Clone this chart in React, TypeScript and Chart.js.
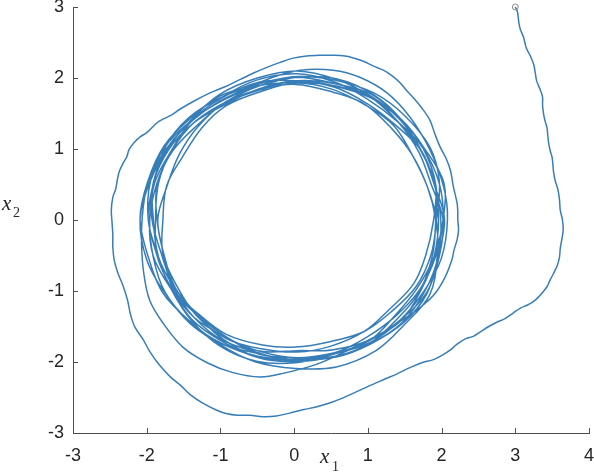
import React, { useEffect, useRef } from "react";
import { Chart, registerables } from "chart.js";

Chart.register(...registerables);

// Start of the trajectory (marked with a small circle)
const startX1 = [3];
const startX2 = [3];

// Transient part: first wide loop and second ring
const transientX1 = [
  3.0, 3.03, 3.04, 3.05, 3.07, 3.11, 3.13, 3.15, 3.2, 3.25, 3.27, 3.29, 3.34, 3.37, 3.37, 3.38,
  3.4, 3.43, 3.44, 3.45, 3.47, 3.5, 3.51, 3.52, 3.54, 3.58, 3.6, 3.61, 3.64, 3.65, 3.63, 3.61,
  3.6, 3.57, 3.52, 3.47, 3.43, 3.37, 3.3, 3.23, 3.16, 3.07, 2.97, 2.86, 2.75, 2.64, 2.52, 2.43,
  2.33, 2.22, 2.12, 2.0, 1.88, 1.73, 1.57, 1.39, 1.21, 0.99, 0.76, 0.53, 0.31, 0.13, -0.06,
  -0.24, -0.42, -0.6, -0.77, -0.91, -1.05, -1.24, -1.41, -1.54, -1.68, -1.83, -1.96, -2.05,
  -2.16, -2.22, -2.26, -2.32, -2.39, -2.44, -2.46, -2.46, -2.47, -2.48, -2.46, -2.42, -2.4,
  -2.37, -2.32, -2.27, -2.24, -2.17, -2.09, -2.0, -1.93, -1.86, -1.78, -1.66, -1.55, -1.35,
  -1.14, -0.93, -0.73, -0.55, -0.37, -0.19, -0.01, 0.17, 0.35, 0.52, 0.69, 0.81, 0.93, 1.07,
  1.21, 1.33, 1.44, 1.52, 1.61, 1.73, 1.84, 1.91, 1.98, 2.06, 2.12, 2.16, 2.21, 2.22, 2.22,
  2.23, 2.21, 2.17, 2.14,
  2.05, 1.9, 1.7, 1.45, 1.21, 0.76, 0.31, -0.15, -0.46, -0.83, -1.18, -1.51, -1.78, -1.96,
  -2.04, -2.07, -2.06, -2.0, -1.86, -1.64, -1.37, -1.05, -0.69, -0.29, 0.08, 0.53, 0.89, 1.26,
  1.57, 1.84, 2.03,
];
const transientX2 = [
  3.0, 2.93, 2.85, 2.77, 2.68, 2.58, 2.5, 2.42, 2.32, 2.19, 2.08, 1.96, 1.83, 1.73, 1.62, 1.52,
  1.41, 1.3, 1.2, 1.1, 0.99, 0.88, 0.78, 0.67, 0.56, 0.42, 0.28, 0.14, 0.0, -0.14, -0.28, -0.4,
  -0.52, -0.64, -0.75, -0.85, -0.94, -1.02, -1.1, -1.16, -1.2, -1.24, -1.31, -1.39, -1.44, -1.5,
  -1.58, -1.64, -1.67, -1.74, -1.83, -1.91, -1.97, -2.01, -2.08, -2.17, -2.25, -2.35, -2.46,
  -2.56, -2.63, -2.67, -2.72, -2.76, -2.77, -2.75, -2.75, -2.73, -2.68, -2.58, -2.46, -2.33,
  -2.21, -2.04, -1.85, -1.68, -1.51, -1.33, -1.13, -0.93, -0.75, -0.57, -0.38, -0.21, -0.04,
  0.14, 0.32, 0.44, 0.56, 0.69, 0.8, 0.89, 0.99, 1.09, 1.17, 1.23, 1.3, 1.37, 1.42, 1.48, 1.56,
  1.68, 1.79, 1.88, 1.98, 2.07, 2.15, 2.22, 2.28, 2.31, 2.32, 2.32, 2.31, 2.28, 2.24, 2.17,
  2.11, 2.03, 1.93, 1.83, 1.73, 1.58, 1.41, 1.21, 1.03, 0.87, 0.7, 0.47, 0.24, 0.12, 0.0,
  -0.14, -0.28, -0.42, -0.56,
  -0.8, -1.05, -1.24, -1.42, -1.58, -1.82, -2.03, -2.16, -2.21, -2.15, -2.01, -1.79, -1.45,
  -1.13, -0.75, -0.35, 0.05, 0.46, 0.8, 1.13, 1.41, 1.65, 1.83, 2.01, 2.11, 2.11, 2.01, 1.79,
  1.45, 0.99, 0.46,
];

// Settled loops around the limit cycle
const cycleX1 = [
  2.08, 2.0, 1.77, 1.43, 1.04, 0.53, 0.04, -0.49, -0.98, -1.41, -1.75, -1.91, -1.96, -1.89, -1.67, -1.37, -0.96, -0.51, 0.04, 0.56, 1.0, 1.42, 1.75, 1.97,
  2.02, 1.92, 1.71, 1.38, 0.97, 0.55, 0.02, -0.48, -0.96, -1.39, -1.65, -1.86, -1.88, -1.84, -1.67, -1.37, -0.98, -0.48, 0.02, 0.55, 0.99, 1.36, 1.73, 1.9,
  1.99, 1.95, 1.77, 1.47, 1.04, 0.56, 0.02, -0.47, -0.93, -1.3, -1.67, -1.84, -1.98, -1.91, -1.74, -1.43, -0.96, -0.49, 0.04, 0.55, 1.02, 1.45, 1.71, 1.92,
  1.92, 1.88, 1.71, 1.42, 1.02, 0.56, 0.02, -0.49, -0.94, -1.32, -1.61, -1.77, -1.86, -1.86, -1.65, -1.36, -0.91, -0.47, 0.04, 0.53, 1.04, 1.43, 1.73, 1.9,
  2.04, 1.95, 1.8, 1.49, 1.02, 0.55, 0.04, -0.47, -0.91, -1.36, -1.67, -1.91, -1.96, -1.86, -1.65, -1.32, -0.93, -0.47, 0.02, 0.56, 1.05, 1.45, 1.75, 1.92,
  1.89, 1.79, 1.62, 1.28, 0.95, 0.49, 0.04, -0.47, -0.92, -1.33, -1.58, -1.78, -1.78, -1.73, -1.52, -1.25, -0.92, -0.45, 0.02, 0.52, 0.98, 1.35, 1.6, 1.81,
  1.93, 1.94, 1.84, 1.49, 1.11, 0.57, 0.02, -0.52, -0.98, -1.42, -1.78, -1.97, -2.09, -1.99, -1.76, -1.39, -1.0, -0.47, 0.04, 0.55, 1.08, 1.49, 1.84, 1.97,
  1.93, 1.86, 1.66, 1.31, 0.95, 0.5, 0.02, -0.43, -0.92, -1.29, -1.64, -1.77, -1.85, -1.73, -1.56, -1.3, -0.92, -0.46, 0.02, 0.53, 0.96, 1.33, 1.6, 1.81,
  1.92, 1.95, 1.8, 1.49, 1.03, 0.57, 0.02, -0.49, -0.97, -1.41, -1.76, -2.0, -2.09, -1.95, -1.72, -1.38, -1.01, -0.5, 0.04, 0.58, 1.03, 1.46, 1.76, 2.03,
  2.02, 1.9, 1.67, 1.38, 1.02, 0.53, 0.04, -0.48, -0.96, -1.3, -1.63, -1.84, -1.91, -1.91, -1.69, -1.36, -0.91, -0.47, 0.02, 0.56, 1.02, 1.4, 1.73, 1.9, 1.96,
  1.9, 1.73, 1.45, 1.0, 0.51, 0.05, -0.45, -0.96, -1.36, -1.63, -1.8, -1.93, -1.91, -1.71, -1.34, -0.93, -0.45, 0.05, 0.55, 1.04, 1.42, 1.69, 1.86,
  2.02, 1.97, 1.8, 1.45, 1.02, 0.53, 0.02, -0.51, -1.0, -1.39, -1.67, -1.86, -1.98, -1.95, -1.76, -1.37, -0.94, -0.47, 0.04, 0.57, 1.07, 1.45, 1.73, 1.92,
];
const cycleX2 = [
  0.01, -0.53, -0.99, -1.42, -1.72, -1.89, -1.96, -1.92, -1.74, -1.44, -1.02, -0.53, 0.01, 0.53, 0.97, 1.42, 1.74, 1.97, 2.06, 1.94, 1.7, 1.37, 1.01, 0.51,
  -0.01, -0.51, -0.97, -1.35, -1.66, -1.87, -1.96, -1.94, -1.72, -1.4, -0.99, -0.5, 0.02, 0.52, 0.97, 1.42, 1.72, 1.94, 1.96, 1.87, 1.64, 1.35, 0.97, 0.52,
  0.01, -0.53, -1.01, -1.44, -1.74, -1.92, -1.94, -1.89, -1.64, -1.35, -0.97, -0.52, 0.01, 0.51, 1.04, 1.44, 1.74, 1.89, 1.94, 1.89, 1.74, 1.4, 0.99, 0.5,
  0.01, -0.48, -0.99, -1.37, -1.74, -1.92, -1.99, -1.87, -1.7, -1.33, -0.96, -0.47, 0.01, 0.5, 0.99, 1.37, 1.66, 1.83, 1.96, 1.89, 1.72, 1.42, 0.97, 0.5,
  0.01, -0.53, -1.04, -1.44, -1.74, -1.87, -1.94, -1.85, -1.66, -1.37, -0.97, -0.51, -0.01, 0.52, 0.97, 1.33, 1.66, 1.89, 2.01, 1.92, 1.77, 1.42, 1.01, 0.5,
  -0.01, -0.48, -0.9, -1.27, -1.57, -1.78, -1.86, -1.81, -1.67, -1.34, -0.95, -0.48, 0.01, 0.48, 0.88, 1.3, 1.61, 1.81, 1.93, 1.84, 1.61, 1.33, 0.92, 0.46,
  0.0, -0.52, -1.05, -1.48, -1.84, -2.07, -2.09, -2.0, -1.77, -1.42, -1.03, -0.55, 0.01, 0.53, 1.05, 1.45, 1.75, 1.92, 2.02, 1.97, 1.79, 1.48, 1.03, 0.54,
  -0.01, -0.48, -0.93, -1.3, -1.57, -1.71, -1.79, -1.76, -1.61, -1.33, -0.97, -0.48, 0.01, 0.46, 0.92, 1.32, 1.67, 1.84, 1.91, 1.8, 1.63, 1.28, 0.92, 0.46,
  0.01, -0.52, -1.03, -1.44, -1.75, -1.93, -1.97, -1.88, -1.75, -1.46, -1.02, -0.56, 0.01, 0.55, 1.0, 1.43, 1.77, 2.0, 2.1, 1.98, 1.75, 1.41, 1.02, 0.53,
  0.0, -0.51, -0.96, -1.33, -1.7, -1.89, -1.99, -1.94, -1.68, -1.35, -0.94, -0.52, 0.01, 0.51, 1.01, 1.37, 1.64, 1.85, 1.96, 1.92, 1.74, 1.39, 0.97, 0.52, 0.02,
  -0.51, -0.97, -1.42, -1.7, -1.83, -1.84, -1.85, -1.7, -1.37, -0.96, -0.48, 0.02, 0.53, 0.99, 1.39, 1.66, 1.85, 1.96, 1.89, 1.74, 1.37, 0.96, 0.5,
  0.01, -0.51, -1.02, -1.4, -1.7, -1.89, -2.01, -1.99, -1.78, -1.42, -0.97, -0.5, 0.01, 0.54, 1.02, 1.42, 1.7, 1.89, 2.01, 1.99, 1.77, 1.42, 0.97, 0.5,
];

const xTicks = [-3, -2, -1, 0, 1, 2, 3, 4];
const yTicks = [-3, -2, -1, 0, 1, 2, 3];

const LINE_COLOR = "#377eb8";
const AXIS_COLOR = "#4d4d4d";
const TEXT_COLOR = "#262626";

export default function App() {
  const ref = useRef<HTMLCanvasElement>(null);

  useEffect(() => {
    if (!ref.current) return;
    const x1 = [...transientX1, ...cycleX1];
    const x2 = [...transientX2, ...cycleX2];
    const path = x1.map((v, i) => ({ x: v, y: x2[i] }));
    const start = startX1.map((v, i) => ({ x: v, y: startX2[i] }));

    const decor = {
      id: "decor",
      afterDraw(chart: any) {
        const { ctx, chartArea: a, scales } = chart;
        const xs = scales.x;
        const ys = scales.y;
        ctx.save();
        ctx.strokeStyle = AXIS_COLOR;
        ctx.lineWidth = 1;
        ctx.beginPath();
        xTicks.forEach((v) => {
          const p = Math.round(xs.getPixelForValue(v)) + 0.5;
          ctx.moveTo(p, a.bottom);
          ctx.lineTo(p, a.bottom - 5);
        });
        yTicks.forEach((v) => {
          const p = Math.round(ys.getPixelForValue(v)) + 0.5;
          ctx.moveTo(a.left, p);
          ctx.lineTo(a.left + 5, p);
        });
        ctx.stroke();

        ctx.fillStyle = TEXT_COLOR;
        ctx.textBaseline = "alphabetic";
        ctx.textAlign = "left";
        const cx = (a.left + a.right) / 2;
        ctx.font = 'italic 21px "Liberation Serif", "DejaVu Serif", serif';
        ctx.fillText("x", cx - 11, 463);
        ctx.font = '14px "Liberation Serif", "DejaVu Serif", serif';
        ctx.fillText("1", cx + 1, 471);
        const cy = (a.top + a.bottom) / 2;
        ctx.font = 'italic 21px "Liberation Serif", "DejaVu Serif", serif';
        ctx.fillText("x", 2, cy - 10);
        ctx.font = '14px "Liberation Serif", "DejaVu Serif", serif';
        ctx.fillText("2", 13, cy - 3);
        ctx.restore();
      },
    };

    const tickFont = { family: '"Liberation Sans", Arial, sans-serif', size: 18 };
    const zeroPad = (s: any) => {
      s.paddingLeft = 0;
      s.paddingRight = 0;
      s.paddingTop = 0;
      s.paddingBottom = 0;
    };

    const chart = new Chart(ref.current, {
      type: "scatter",
      data: {
        datasets: [
          {
            data: start,
            showLine: false,
            pointRadius: 3,
            pointBorderWidth: 1,
            pointBorderColor: "#8a8a8a",
            pointBackgroundColor: "rgba(0,0,0,0)",
            clip: false,
          } as any,
          {
            data: path,
            showLine: true,
            borderColor: LINE_COLOR,
            borderWidth: 1.5,
            pointRadius: 0,
            tension: 0.35,
            fill: false,
            clip: false,
          } as any,
        ],
      },
      options: {
        animation: false,
        responsive: false,
        maintainAspectRatio: false,
        layout: { padding: { top: 7, right: 5, left: 0, bottom: 0 } },
        plugins: { legend: { display: false }, tooltip: { enabled: false } },
        scales: {
          x: {
            type: "linear",
            min: -3,
            max: 4,
            afterFit: (s: any) => {
              s.height = 41;
              zeroPad(s);
            },
            afterBuildTicks: (s: any) => {
              s.ticks = xTicks.map((v) => ({ value: v }));
            },
            grid: { display: false, drawTicks: false },
            border: { display: true, color: AXIS_COLOR, width: 1 },
            ticks: { color: TEXT_COLOR, font: tickFont, padding: 12, maxRotation: 0, autoSkip: false },
          },
          y: {
            type: "linear",
            min: -3,
            max: 3,
            afterFit: (s: any) => {
              s.width = 73;
              zeroPad(s);
            },
            afterBuildTicks: (s: any) => {
              s.ticks = yTicks.map((v) => ({ value: v }));
            },
            grid: { display: false, drawTicks: false },
            border: { display: true, color: AXIS_COLOR, width: 1 },
            ticks: { color: TEXT_COLOR, font: tickFont, padding: 9, autoSkip: false },
          },
        },
      },
      plugins: [decor],
    });
    return () => chart.destroy();
  }, []);

  return (
    <div style={{ position: "fixed", left: 0, top: 0, width: 594, height: 474, background: "#fff" }}>
      <canvas ref={ref} width={594} height={474} style={{ display: "block" }} />
    </div>
  );
}
